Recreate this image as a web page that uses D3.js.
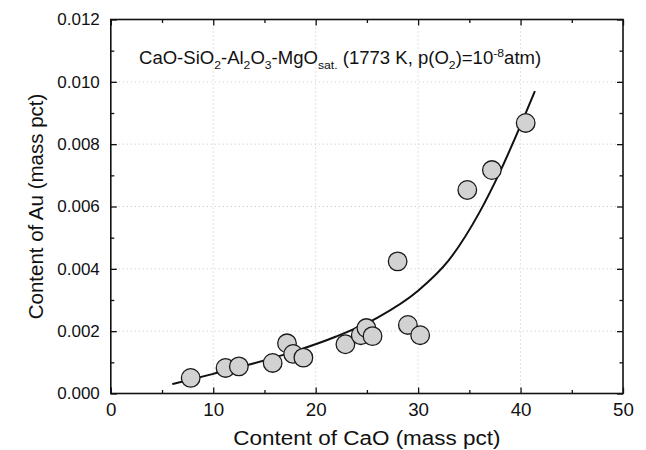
<!DOCTYPE html>
<html>
<head>
<meta charset="utf-8">
<script src="https://cdn.jsdelivr.net/npm/d3@7/dist/d3.min.js"></script>
<style>
  html, body { margin: 0; padding: 0; background: #fff; }
  svg { display: block; }
  text { font-family: "Liberation Sans", Arial, Helvetica, sans-serif; fill: #111; }
</style>
</head>
<body>
<svg id="chart" width="646" height="450"></svg>
<script>
// ---- data ----
const caoContent = [7.8, 11.2, 12.5, 15.8, 17.2, 17.8, 18.8, 22.9, 24.4, 24.95, 25.55, 29.0, 30.2, 28.0, 34.8, 37.2, 40.5];
const auContent  = [0.00050, 0.00082, 0.00087, 0.00098, 0.00161, 0.00127, 0.00115, 0.00158, 0.00187, 0.00210, 0.00184, 0.00220, 0.00187, 0.00424, 0.00653, 0.00717, 0.00868];

const fitCaO = [6, 10, 14, 18, 22, 26, 30, 33, 36, 38, 40, 41.4];
const fitAu  = [0.00030, 0.00063, 0.00097, 0.00136, 0.00183, 0.00243, 0.00330, 0.00428, 0.00582, 0.00712, 0.00860, 0.00970];

const xTicks = [0, 10, 20, 30, 40, 50];
const xMinorTicks = [5, 15, 25, 35, 45];
const yTicks = [0, 0.002, 0.004, 0.006, 0.008, 0.010, 0.012];
const yMinorTicks = [0.001, 0.003, 0.005, 0.007, 0.009, 0.011];

const xTitle = "Content of CaO (mass pct)";
const yTitle = "Content of Au (mass pct)";

// ---- layout ----
const svg = d3.select("#chart");
const L = 110.8, R = 623, T = 19.5, B = 393.5;

const x = d3.scaleLinear().domain([0, 50]).range([L, R]);
const y = d3.scaleLinear().domain([0, 0.012]).range([B, T]);

// grid lines
const grid = svg.append("g").attr("stroke", "#c8c8c8").attr("stroke-width", 1).attr("stroke-dasharray", "1,3");
grid.selectAll("line.gx").data(xTicks.slice(1, -1)).join("line")
  .attr("x1", d => x(d)).attr("x2", d => x(d)).attr("y1", T).attr("y2", B);
grid.selectAll("line.gy").data(yTicks.slice(1, -1)).join("line")
  .attr("x1", L).attr("x2", R).attr("y1", d => y(d)).attr("y2", d => y(d));

// axes helper
function styleAxis(g, size, sx) {
  g.select(".domain").remove();
  g.selectAll(".tick line").attr("stroke", "#111").attr("stroke-width", 1.3);
  g.selectAll("text").attr("font-size", size + "px").attr("fill", "#111")
    .attr("font-family", "Liberation Sans, Arial, sans-serif");
  if (sx) g.selectAll("text").attr("transform", `scale(${sx},1)`);
}

const fmtY = d3.format(".3f");

svg.append("g").attr("transform", `translate(0,${B})`)
  .call(d3.axisBottom(x).tickValues(xTicks).tickSize(-6).tickPadding(10).tickFormat(d3.format("d")))
  .call(g => styleAxis(g, 17.5, 1.07));
svg.append("g").attr("transform", `translate(0,${B})`)
  .call(d3.axisBottom(x).tickValues(xMinorTicks).tickSize(-3.5).tickFormat(""))
  .call(g => styleAxis(g, 17));
svg.append("g").attr("transform", `translate(0,${T})`)
  .call(d3.axisTop(x).tickValues(xTicks).tickSize(-6).tickFormat(""))
  .call(g => styleAxis(g, 17));
svg.append("g").attr("transform", `translate(0,${T})`)
  .call(d3.axisTop(x).tickValues(xMinorTicks).tickSize(-3.5).tickFormat(""))
  .call(g => styleAxis(g, 17));

svg.append("g").attr("transform", `translate(${L},0)`)
  .call(d3.axisLeft(y).tickValues(yTicks).tickSize(-6).tickPadding(11).tickFormat(fmtY))
  .call(g => styleAxis(g, 17));
svg.append("g").attr("transform", `translate(${L},0)`)
  .call(d3.axisLeft(y).tickValues(yMinorTicks).tickSize(-3.5).tickFormat(""))
  .call(g => styleAxis(g, 17));
svg.append("g").attr("transform", `translate(${R},0)`)
  .call(d3.axisRight(y).tickValues(yTicks).tickSize(-6).tickFormat(""))
  .call(g => styleAxis(g, 17));
svg.append("g").attr("transform", `translate(${R},0)`)
  .call(d3.axisRight(y).tickValues(yMinorTicks).tickSize(-3.5).tickFormat(""))
  .call(g => styleAxis(g, 17));

// frame
svg.append("rect").attr("x", L).attr("y", T).attr("width", R - L).attr("height", B - T)
  .attr("fill", "none").attr("stroke", "#111").attr("stroke-width", 1.6);

// fitted curve
const fitData = fitCaO.map((c, i) => [c, fitAu[i]]);
svg.append("path").datum(fitData)
  .attr("fill", "none").attr("stroke", "#111").attr("stroke-width", 2)
  .attr("d", d3.line().x(d => x(d[0])).y(d => y(d[1])).curve(d3.curveMonotoneX));

// points
const pts = caoContent.map((c, i) => [c, auContent[i]]);
svg.append("g").selectAll("circle").data(pts).join("circle")
  .attr("cx", d => x(d[0])).attr("cy", d => y(d[1])).attr("r", 9.3)
  .attr("fill", "#d2d2d2").attr("stroke", "#1a1a1a").attr("stroke-width", 1.3);

// annotation
const annG = svg.append("g").attr("transform", "translate(139,64) scale(1.06,1)");
const ann = annG.append("text").attr("x", 0).attr("y", 0).attr("font-size", "17.5px");
const parts = [
  ["CaO-SiO", 0], ["2", 1], ["-Al", 0], ["2", 1], ["O", 0], ["3", 1], ["-MgO", 0], ["sat.", 1],
  [" (1773 K, p(O", 0], ["2", 1], [")=10", 0], ["-8", 2], ["atm)", 0]
];
let prev = 0;
parts.forEach(([t, k]) => {
  const off = k === 1 ? 5 : k === 2 ? -7 : 0;
  ann.append("tspan").attr("dy", off - prev).attr("font-size", k ? "11.5px" : "17.5px").text(t);
  prev = off;
});

// axis titles
svg.append("g").attr("transform", `translate(${(L + R) / 2},445) scale(1.07,1)`)
  .append("text").attr("text-anchor", "middle").attr("font-size", "21px").text(xTitle);
svg.append("text").attr("transform", `translate(43,${(T + B) / 2}) rotate(-90)`)
  .attr("text-anchor", "middle").attr("font-size", "20.5px").text(yTitle);
</script>
</body>
</html>
